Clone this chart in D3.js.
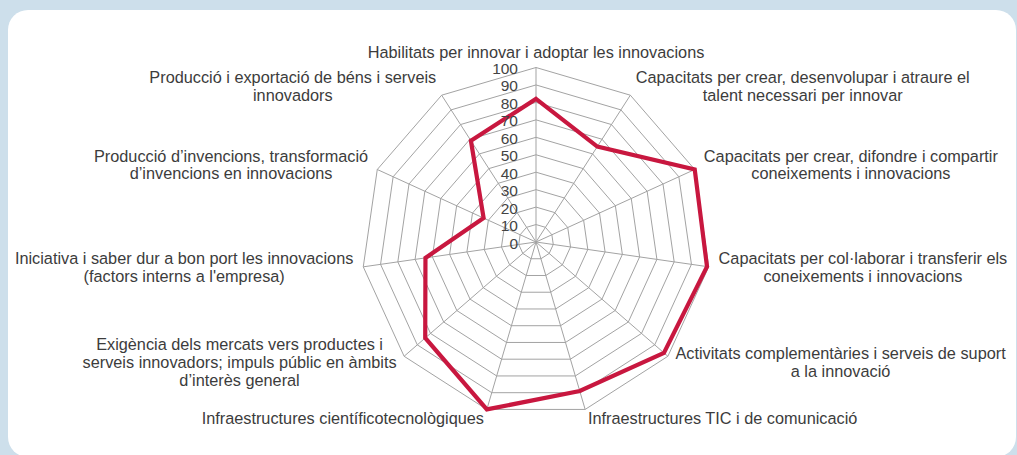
<!DOCTYPE html>
<html><head><meta charset="utf-8">
<script src="https://cdn.jsdelivr.net/npm/d3@7"></script>
<style>
html,body{margin:0;padding:0;background:#cddfeb;}
svg{display:block;}
text{font-family:"Liberation Sans",Arial,Helvetica,sans-serif;}
</style></head>
<body>
<svg id="chart" width="1017" height="455"></svg>
<script>
const categories = [
  ["Habilitats per innovar i adoptar les innovacions"],
  ["Capacitats per crear, desenvolupar i atraure el","talent necessari per innovar"],
  ["Capacitats per crear, difondre i compartir","coneixements i innovacions"],
  ["Capacitats per col·laborar i transferir els","coneixements i innovacions"],
  ["Activitats complementàries i serveis de suport","a la innovació"],
  ["Infraestructures TIC i de comunicació"],
  ["Infraestructures científicotecnològiques"],
  ["Exigència dels mercats vers productes i","serveis innovadors; impuls públic en àmbits","d’interès general"],
  ["Iniciativa i saber dur a bon port les innovacions","(factors interns a l'empresa)"],
  ["Producció d’invencions, transformació","d’invencions en innovacions"],
  ["Producció i exportació de béns i serveis","innovadors"]
];
const values = [82, 65, 100, 99, 97, 89, 100, 84, 64, 33, 69];
const tickValues = [0,10,20,30,40,50,60,70,80,90,100];

const svg = d3.select("#chart");
svg.append("rect").attr("x",8).attr("y",10).attr("width",1008).attr("height",447)
  .attr("rx",20).attr("ry",20).attr("fill","#ffffff");

const cx = 536, cy = 242, R = 174.5;
const n = categories.length;
const r = d3.scaleLinear().domain([0,100]).range([0,R]);
const angle = d3.scaleLinear().domain([0,n]).range([0,2*Math.PI]);
const pt = (i,v) => [cx + r(v)*Math.sin(angle(i)), cy - r(v)*Math.cos(angle(i))];

const g = svg.append("g");
// rings
const ringLine = d3.line();
tickValues.filter(t=>t>0).forEach(t=>{
  const pts = d3.range(n).map(i=>pt(i,t));
  g.append("path").attr("d", ringLine(pts)+"Z").attr("fill","none")
    .attr("stroke","#a3a3a3").attr("stroke-width",1);
});
// spokes
d3.range(n).forEach(i=>{
  const p = pt(i,100);
  g.append("line").attr("x1",cx).attr("y1",cy).attr("x2",p[0]).attr("y2",p[1])
    .attr("stroke","#a3a3a3").attr("stroke-width",1);
});

// series
const seriesPts = values.map((v,i)=>pt(i,v));
g.append("path").attr("d", d3.line()(seriesPts)+"Z").attr("fill","none")
  .attr("stroke","#c8173f").attr("stroke-width",4.2).attr("stroke-linejoin","miter");

// tick labels
g.selectAll("text.tick").data(tickValues).join("text").attr("class","tick")
  .attr("x", cx-18).attr("y", d=>cy - r(d)+1)
  .attr("text-anchor","end").attr("dominant-baseline","central")
  .attr("font-size",15.5).attr("fill","#444").text(d=>d);

// category labels
const lh = 17.7;
categories.forEach((lines,i)=>{
  const p = pt(i, 100*(R+10)/R);
  const s = Math.sin(angle(i));
  const t = g.append("text").attr("font-size",16.3).attr("fill","#3c3c3c").attr("text-anchor","middle");
  const spans = lines.map((l,k)=>t.append("tspan").attr("dy", k===0?0:lh).text(l));
  let maxW = 0;
  spans.forEach(sp=>{maxW = Math.max(maxW, sp.node().getComputedTextLength());});
  let x = p[0];
  if (s > 0.01) x = p[0] + maxW/2; else if (s < -0.01) x = p[0] - maxW/2;
  const blockH = (lines.length-1)*lh;
  let yFirst;
  if (Math.abs(s) <= 0.01) yFirst = p[1] - blockH;
  else yFirst = p[1] - blockH/2 + 5;
  spans.forEach(sp=>sp.attr("x", x));
  t.attr("y", yFirst);
});
</script>
</body></html>
